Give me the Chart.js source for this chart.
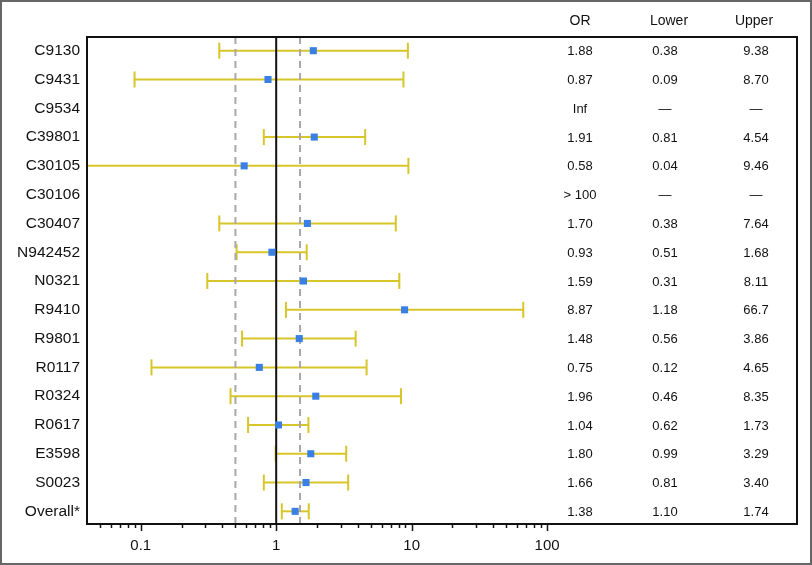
<!DOCTYPE html>
<html>
<head>
<meta charset="utf-8">
<script src="https://cdn.jsdelivr.net/npm/chart.js@4.4.1/dist/chart.umd.min.js"></script>
<style>
body { margin: 0; background: #fff; }
#wrap { width: 812px; height: 565px; }
</style>
</head>
<body>
<div id="wrap"><canvas id="myChart"></canvas></div>
<script>
// datos
var studies = ["C9130", "C9431", "C9534", "C39801", "C30105", "C30106", "C30407", "N942452",
  "N0321", "R9410", "R9801", "R0117", "R0324", "R0617", "E3598", "S0023", "Overall*"];
var orVals = [1.88, 0.87, null, 1.91, 0.58, null, 1.70, 0.93, 1.59, 8.87, 1.48, 0.75, 1.96, 1.04, 1.80, 1.66, 1.38];
var lowerVals = [0.38, 0.09, null, 0.81, 0.04, null, 0.38, 0.51, 0.31, 1.18, 0.56, 0.12, 0.46, 0.62, 0.99, 0.81, 1.10];
var upperVals = [9.38, 8.70, null, 4.54, 9.46, null, 7.64, 1.68, 8.11, 66.7, 3.86, 4.65, 8.35, 1.73, 3.29, 3.40, 1.74];
var orText = ["1.88", "0.87", "Inf", "1.91", "0.58", "> 100", "1.70", "0.93", "1.59", "8.87", "1.48", "0.75", "1.96", "1.04", "1.80", "1.66", "1.38"];
var lowerText = ["0.38", "0.09", "\u2014", "0.81", "0.04", "\u2014", "0.38", "0.51", "0.31", "1.18", "0.56", "0.12", "0.46", "0.62", "0.99", "0.81", "1.10"];
var upperText = ["9.38", "8.70", "\u2014", "4.54", "9.46", "\u2014", "7.64", "1.68", "8.11", "66.7", "3.86", "4.65", "8.35", "1.73", "3.29", "3.40", "1.74"];
var headers = ["OR", "Lower", "Upper"];
var refLines = [0.5, 1, 1.5];
var majorTicks = [0.1, 1, 10, 100];
var minorTicks = [0.05, 0.06, 0.07, 0.08, 0.09, 0.2, 0.3, 0.4, 0.5, 0.6, 0.7, 0.8, 0.9,
  2, 3, 4, 5, 6, 7, 8, 9, 20, 30, 40, 50, 60, 70, 80, 90];

var yMin = -0.476, yMax = 16.44;
var amarillo = "#d8c52a";
var azul = "#3a80e4";
var fuente = "'Liberation Sans', Arial, sans-serif";

var datasets = [];

// lineas de referencia
refLines.forEach(function (v) {
  datasets.push({
    data: [{ x: v, y: yMin }, { x: v, y: yMax }],
    showLine: true,
    borderColor: v === 1 ? "#111" : "#a8a8a8",
    borderWidth: 2,
    borderDash: v === 1 ? [] : [7, 5],
    pointRadius: 0,
    order: 2,
  });
});

// intervalos
for (var i = 0; i < studies.length; i++) {
  if (lowerVals[i] === null) continue;
  datasets.push({
    data: [{ x: lowerVals[i], y: i }, { x: upperVals[i], y: i }],
    showLine: true,
    borderColor: amarillo,
    borderWidth: 2,
    pointStyle: "line",
    rotation: 90,
    pointRadius: 8,
    pointBorderColor: amarillo,
    pointBorderWidth: 2,
    clip: 0,
    order: 3,
  });
}

// OR
var puntos = [];
for (var j = 0; j < studies.length; j++) {
  if (orVals[j] !== null) puntos.push({ x: orVals[j], y: j });
}
datasets.push({
  data: puntos,
  pointStyle: "rect",
  pointRadius: 5,
  backgroundColor: azul,
  borderColor: azul,
  borderWidth: 0,
  order: 1,
});

const marco = {
  id: "marco",
  afterDraw(chart) {
    const ctx = chart.ctx;
    const a = chart.chartArea;
    const x = chart.scales.x;
    const y = chart.scales.y;
    ctx.save();
    // ticks del eje x
    ctx.strokeStyle = "#111";
    ctx.lineWidth = 1.5;
    majorTicks.concat(minorTicks).forEach(function (v) {
      const px = Math.round(x.getPixelForValue(v)) + 0.5;
      const len = majorTicks.indexOf(v) >= 0 ? 7 : 4;
      ctx.beginPath();
      ctx.moveTo(px, a.bottom);
      ctx.lineTo(px, a.bottom + len);
      ctx.stroke();
    });
    // caja
    ctx.lineWidth = 2;
    ctx.strokeStyle = "#111";
    ctx.strokeRect(a.left, a.top, a.right - a.left, a.bottom - a.top);
    // borde exterior
    ctx.lineWidth = 2;
    ctx.strokeStyle = "#666";
    ctx.strokeRect(1, 1, chart.width - 2, chart.height - 2);
    // tabla
    ctx.fillStyle = "#111";
    ctx.textAlign = "center";
    ctx.textBaseline = "middle";
    ctx.font = "14px " + fuente;
    const colH = [580, 669, 754];
    const colV = [580, 665, 756];
    headers.forEach(function (h, k) {
      ctx.fillText(h, colH[k], 21);
    });
    ctx.font = "13px " + fuente;
    for (let k = 0; k < studies.length; k++) {
      const py = y.getPixelForValue(k) + 1;
      ctx.fillText(orText[k], colV[0], py);
      ctx.fillText(lowerText[k], colV[1], py);
      ctx.fillText(upperText[k], colV[2], py);
    }
    ctx.restore();
  },
};

const config = {
  type: "scatter",
  data: { datasets: datasets },
  options: {
    responsive: true,
    maintainAspectRatio: false,
    animation: false,
    layout: { padding: { top: 37, right: 15, left: 0, bottom: 0 } },
    plugins: { legend: { display: false }, tooltip: { enabled: false } },
    events: [],
    scales: {
      x: {
        type: "logarithmic",
        min: 0.0401,
        max: 7000,
        grid: { display: false, drawTicks: false },
        border: { display: false },
        afterBuildTicks: function (scale) {
          scale.ticks = majorTicks.concat(minorTicks).sort(function (a, b) { return a - b; })
            .map(function (v) { return { value: v }; });
        },
        afterFit: function (scale) { scale.height = 41; },
        ticks: {
          autoSkip: false,
          maxRotation: 0,
          padding: 13,
          color: "#111",
          font: { size: 15, family: fuente },
          callback: function (v) {
            return majorTicks.indexOf(v) >= 0 ? String(v) : "";
          },
        },
      },
      y: {
        type: "linear",
        reverse: true,
        min: yMin,
        max: yMax,
        grid: { display: false, drawTicks: false },
        border: { display: false },
        afterBuildTicks: function (scale) {
          scale.ticks = studies.map(function (s, i) { return { value: i }; });
        },
        afterFit: function (scale) { scale.width = 87; },
        ticks: {
          autoSkip: false,
          padding: 7,
          color: "#111",
          font: { size: 15.5, family: fuente },
          callback: function (v) { return studies[v]; },
        },
      },
    },
  },
  plugins: [marco],
};

myChart = new Chart(document.getElementById("myChart"), config);
</script>
</body>
</html>
